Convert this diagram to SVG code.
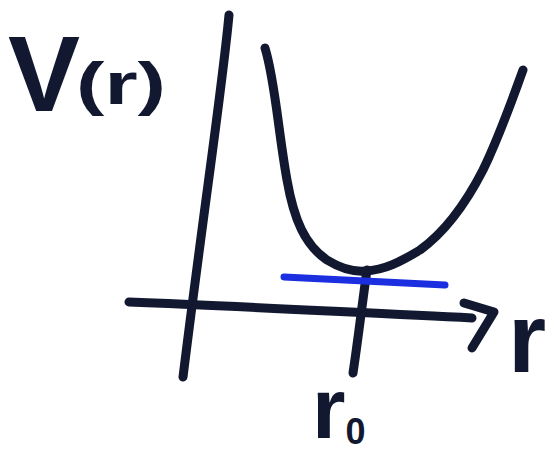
<svg xmlns="http://www.w3.org/2000/svg" width="553" height="460" viewBox="0 0 553 460">
  <style>
    .ink { fill: none; stroke: #111830; stroke-width: 9; stroke-linecap: round; stroke-linejoin: round; }
    .blue { fill: none; stroke: #1b2fe0; stroke-width: 7; stroke-linecap: round; }
    .lbl { font-family: "Liberation Sans", Arial, sans-serif; font-weight: bold; fill: #111830; }
  </style>
  <rect width="553" height="460" fill="#ffffff"/>
  <g id="connectors">
    <path id="y-axis" class="ink" d="M229,15 C222,90 205,200 183,377"/>
    <path id="x-axis" class="ink" d="M129,302 C240,306 360,313 472,318"/>
    <path id="x-arrow" class="ink" d="M464,303 L494,312 L472,348"/>
    <path id="r0-tick" class="ink" d="M367,270 C362,305 358,340 353,373"/>
  </g>
  <g id="potential-curve">
    <path class="ink" d="M265,48 C275,80 278,130 287,180 C294,220 305,245 327,260 C340,268 352,272 365,271 C385,270 400,262 420,250 C445,232 465,205 483,170 C500,135 512,100 523,70"/>
  </g>
  <g id="energy-level">
    <path class="blue" d="M284,277 L445,285"/>
  </g>
  <g id="label-V">
    <text class="lbl" x="8" y="111" font-size="108">V</text>
    <text class="lbl" x="76" y="104" font-size="60" textLength="90" lengthAdjust="spacingAndGlyphs">(r)</text>
  </g>
  <g id="label-r">
    <text class="lbl" x="508" y="372" font-size="98">r</text>
  </g>
  <g id="label-r0">
    <text class="lbl" x="312" y="438" font-size="86">r<tspan font-size="36" dy="6">0</tspan></text>
  </g>
</svg>
